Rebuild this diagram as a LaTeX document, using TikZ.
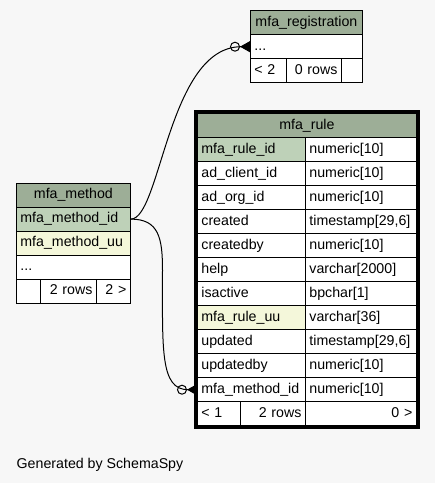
\documentclass[tikz,border=0pt]{standalone}
\usepackage{fontspec}
\setmainfont{Liberation Sans}
\usetikzlibrary{arrows.meta}
\definecolor{bgcol}{HTML}{F7F7F7}
\definecolor{headcol}{HTML}{9DAE97}
\definecolor{pkcol}{HTML}{BED1B8}
\definecolor{uucol}{HTML}{F4F7DA}

\begin{document}
\begin{tikzpicture}[x=1pt,y=1pt]
	\tikzstyle{every node}+=[font=\fontsize{14.2}{16}\selectfont, inner xsep=4pt, inner ysep=0pt, text height=10.5pt, text depth=3.5pt]
	\tikzstyle{cell}=[draw=black, fill=white, anchor=north west, minimum height=24pt, align=left, line width=0.8pt]
	\tikzstyle{head}=[cell, fill=headcol, align=center]
	\tikzstyle{pk}=[cell, fill=pkcol]
	\tikzstyle{uu}=[cell, fill=uucol]
	\tikzstyle{num}=[cell, align=right]
	\tikzstyle{fk}=[line width=1pt, -{Circle[open,length=10pt,width=10pt,sep=0pt,line width=1pt] Triangle[reversed,length=10pt,width=11pt]}]
	\useasboundingbox (0,0) rectangle (435,-483);
	\fill [bgcol] (0,0) rectangle (435,-483);
	% mfa_registration
	\node [head, text width=104pt] (reg) at (250,-10.3) {mfa\_registration};
	\node [cell, text width=104pt] (reg_dots) at (250,-34.3) {...};
	\node [cell, text width=28pt] (reg_foot1) at (250,-58.3) {< 2};
	\node [num, text width=47pt] (reg_foot2) at (286,-58.3) {0 rows};
	\node [cell, text width=13pt] (reg_foot3) at (341,-58.3) {};
	% mfa_method
	\node [head, text width=106pt] (meth) at (16,-182.7) {mfa\_method};
	\node [pk, text width=106pt] (meth_id) at (16,-206.7) {mfa\_method\_id};
	\node [uu, text width=106pt] (meth_uu) at (16,-230.7) {mfa\_method\_uu};
	\node [cell, text width=106pt] (meth_dots) at (16,-254.7) {...};
	\node [cell, text width=16pt] (meth_foot1) at (16,-278.7) {};
	\node [num, text width=48pt] (meth_foot2) at (40,-278.7) {2 rows};
	\node [num, text width=26pt] (meth_foot3) at (96,-278.7) {2 >};
	% mfa_rule
	\node [head, text width=211pt] (rule) at (197,-113.3) {mfa\_rule};
	\node [pk, text width=100pt] (rule_id) at (197,-137.3) {mfa\_rule\_id};
	\node [cell, text width=103pt] (rule_id_t) at (305,-137.3) {numeric[10]};
	\node [cell, text width=100pt] (rule_client) at (197,-161.3) {ad\_client\_id};
	\node [cell, text width=103pt] (rule_client_t) at (305,-161.3) {numeric[10]};
	\node [cell, text width=100pt] (rule_org) at (197,-185.3) {ad\_org\_id};
	\node [cell, text width=103pt] (rule_org_t) at (305,-185.3) {numeric[10]};
	\node [cell, text width=100pt] (rule_created) at (197,-209.3) {created};
	\node [cell, text width=103pt] (rule_created_t) at (305,-209.3) {timestamp[29,6]};
	\node [cell, text width=100pt] (rule_createdby) at (197,-233.3) {createdby};
	\node [cell, text width=103pt] (rule_createdby_t) at (305,-233.3) {numeric[10]};
	\node [cell, text width=100pt] (rule_help) at (197,-257.3) {help};
	\node [cell, text width=103pt] (rule_help_t) at (305,-257.3) {varchar[2000]};
	\node [cell, text width=100pt] (rule_active) at (197,-281.3) {isactive};
	\node [cell, text width=103pt] (rule_active_t) at (305,-281.3) {bpchar[1]};
	\node [uu, text width=100pt] (rule_uu) at (197,-305.3) {mfa\_rule\_uu};
	\node [cell, text width=103pt] (rule_uu_t) at (305,-305.3) {varchar[36]};
	\node [cell, text width=100pt] (rule_updated) at (197,-329.3) {updated};
	\node [cell, text width=103pt] (rule_updated_t) at (305,-329.3) {timestamp[29,6]};
	\node [cell, text width=100pt] (rule_updatedby) at (197,-353.3) {updatedby};
	\node [cell, text width=103pt] (rule_updatedby_t) at (305,-353.3) {numeric[10]};
	\node [cell, text width=100pt] (rule_meth) at (197,-377.3) {mfa\_method\_id};
	\node [cell, text width=103pt] (rule_meth_t) at (305,-377.3) {numeric[10]};
	\node [cell, text width=35pt] (rule_foot1) at (197,-401.3) {< 1};
	\node [num, text width=57pt] (rule_foot2) at (240,-401.3) {2 rows};
	\node [num, text width=103pt] (rule_foot3) at (305,-401.3) {0 >};
	\draw [line width=3pt] ([shift={(-1.3,1.5)}]rule.north west) rectangle ([shift={(1.3,-1.5)}]rule_foot3.south east);
	% relations
	\draw [fk] (meth_id.east) .. controls +(30,0) and +(-82,0) .. (reg_dots.west);
	\draw [fk] (meth_id.east) .. controls +(28,0) and +(0,32) .. (162.5,-270) .. controls +(0,-80) and +(-37,0) .. (rule_meth.west);
	\node [anchor=base west, inner xsep=0pt] (credit) at (16.5,-468) {Generated by SchemaSpy};
\end{tikzpicture}
\end{document}
